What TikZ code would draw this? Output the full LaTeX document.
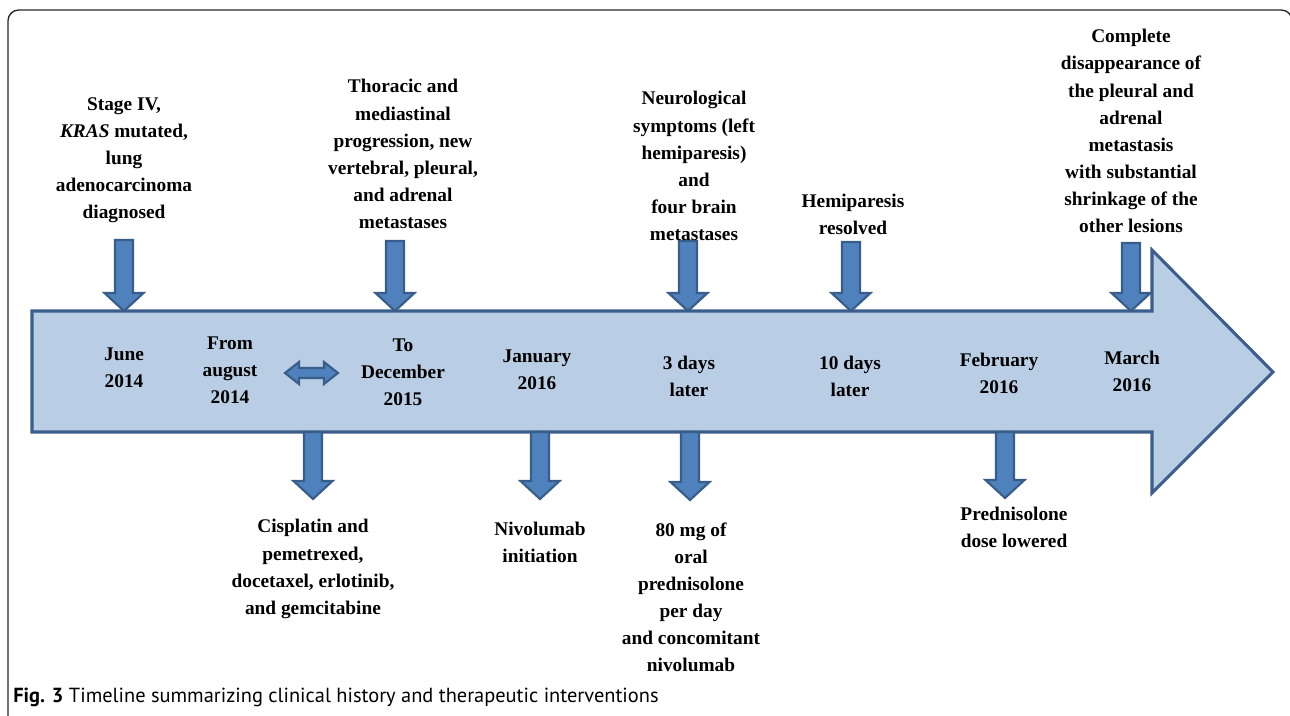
\documentclass[tikz,border=0pt]{standalone}
\usepackage{fontspec}
\setmainfont{Liberation Serif}
\newfontfamily\capfont{PT Sans}
\definecolor{bodyfill}{HTML}{B9CDE5}
\definecolor{bodyline}{HTML}{3B5E8C}
\definecolor{arrfill}{HTML}{4F81BD}
\definecolor{arrline}{HTML}{385D8A}
\newcommand{\dnarrow}[3]{% x, ytop, ytip
  \fill[arrfill,draw=arrline,line width=1.6pt,line join=miter]
   (#1-9,#2) -- (#1+9,#2) -- (#1+9,#3-18) -- (#1+19.5,#3-18) -- (#1,#3)
   -- (#1-19.5,#3-18) -- (#1-9,#3-18) -- cycle;}
\tikzset{
  lbl/.style={align=center,inner sep=0pt,text=black,
    font=\fontsize{14.5}{20.3}\selectfont\bfseries},
}
\begin{document}
\begin{tikzpicture}[x=0.75pt,y=-0.75pt]
\useasboundingbox (0,0) rectangle (1290,715);
% frame
\begin{scope}
\clip (0,0) rectangle (1290,715);
\draw[line width=1pt,black!85,rounded corners=8pt] (8,730) -- (8,10) -- (1292,10) -- (1292,730);
\end{scope}
% main arrow
\draw[fill=bodyfill,draw=bodyline,line width=2.3pt,line join=miter]
  (32,311) -- (1152,311) -- (1152,250) -- (1273,372) -- (1152,493) -- (1152,432) -- (32,432) -- cycle;
% top arrows
\dnarrow{124}{240}{311}
\dnarrow{395}{241}{311}
\dnarrow{688}{241}{311}
\dnarrow{851}{242}{311}
\dnarrow{1131}{243}{311}
% bottom arrows
\dnarrow{313}{432}{499}
\dnarrow{540}{432}{499}
\dnarrow{690}{432}{500}
\dnarrow{1005}{432}{498}
% double arrow
\fill[arrfill,draw=arrline,line width=1.6pt,line join=miter]
  (285,373) -- (299,362) -- (299,368) -- (324,368) -- (324,362) -- (338,373)
  -- (324,384) -- (324,378) -- (299,378) -- (299,384) -- cycle;
% top labels
\node[lbl] (t1) at (124,160) {Stage IV,\\\textit{KRAS} mutated,\\lung\\adenocarcinoma\\diagnosed};
\node[lbl] (t2) at (403,154) {Thoracic and\\mediastinal\\progression, new\\vertebral, pleural,\\and adrenal\\metastases};
\node[lbl] (t3) at (694,166) {Neurological\\symptoms (left\\hemiparesis)\\and\\four brain\\metastases};
\node[lbl] (t4) at (853,214) {Hemiparesis\\resolved};
\node[lbl] (t5) at (1131,131) {Complete\\disappearance of\\the pleural and\\adrenal\\metastasis\\with substantial\\shrinkage of the\\other lesions};
% inside labels
\node[lbl] (d1) at (124,368) {June\\2014};
\node[lbl] (d2) at (230,370) {From\\august\\2014};
\node[lbl] (d3) at (403,372) {To\\December\\2015};
\node[lbl] (d4) at (537,370) {January\\2016};
\node[lbl] (d5) at (689,376) {3 days\\later};
\node[lbl] (d6) at (850,376) {10 days\\later};
\node[lbl] (d7) at (999,373) {February\\2016};
\node[lbl] (d8) at (1132,371) {March\\2016};
% bottom labels
\node[lbl] (b1) at (313,569) {Cisplatin and\\pemetrexed,\\docetaxel, erlotinib,\\and gemcitabine};
\node[lbl] (b2) at (540,542) {Nivolumab\\initiation};
\node[lbl] (b3) at (691,597) {80 mg of\\oral\\prednisolone\\per day\\and concomitant\\nivolumab};
\node[lbl] (b4) at (1014,527) {Prednisolone\\dose lowered};
% caption
\node[anchor=west,inner sep=0pt,font=\capfont\fontsize{15.3}{18}\selectfont] (cap) at (13,697) {\textbf{Fig. 3} Timeline summarizing clinical history and therapeutic interventions};
\end{tikzpicture}
\end{document}
